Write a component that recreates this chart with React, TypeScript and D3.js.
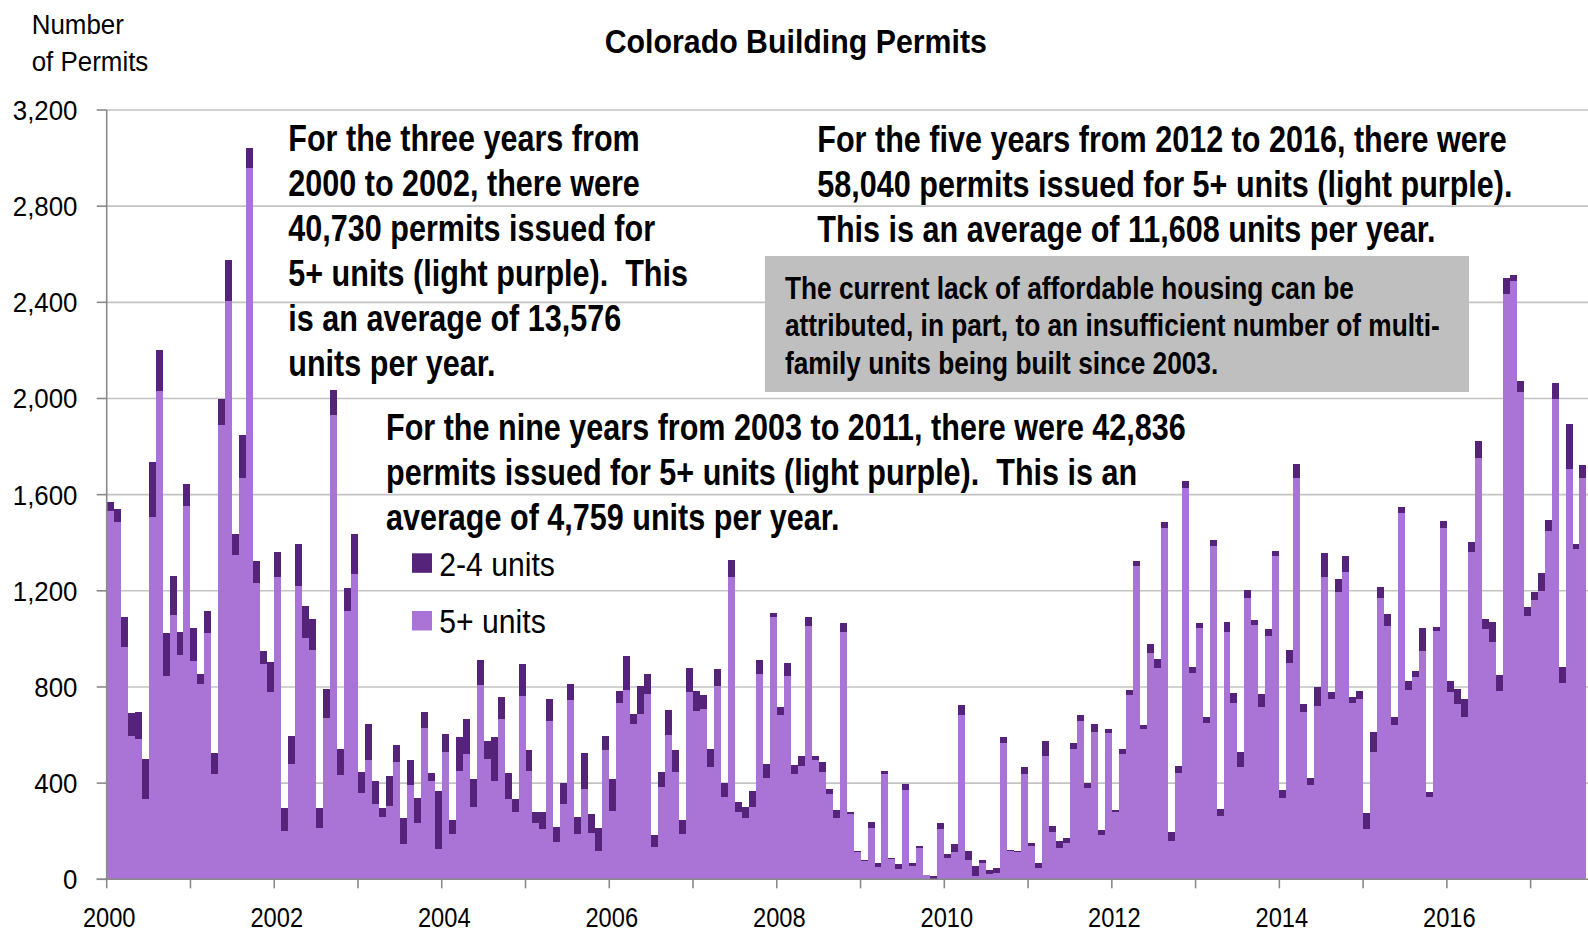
import React, { useEffect, useRef } from "react";
import * as d3 from "d3";

// Monthly permits, Jan 2000 - Aug 2017 (one row per year)
const fivePlus = [
  1534, 1485, 967, 597, 582, 336, 1507, 2033, 844, 1100, 935, 1553,
  910, 813, 1026, 438, 1888, 2406, 1348, 1670, 2960, 1232, 897, 781,
  1259, 199, 480, 1221, 1005, 952, 212, 671, 1930, 432, 1115, 1268,
  358, 497, 312, 261, 305, 487, 147, 393, 236, 629, 407, 128,
  531, 187, 452, 522, 301, 809, 502, 407, 667, 334, 278, 763,
  451, 233, 210, 660, 157, 312, 744, 189, 375, 194, 119, 536,
  284, 735, 788, 647, 688, 770, 136, 384, 599, 447, 189, 778,
  698, 710, 466, 805, 344, 1258, 278, 253, 302, 855, 420, 1093,
  684, 845, 438, 473, 1052, 497, 445, 355, 253, 1030, 272, 112,
  75, 215, 50, 438, 85, 44, 370, 57, 132, 17, 3, 208,
  87, 114, 684, 82, 15, 67, 22, 25, 566, 118, 114, 438,
  140, 47, 513, 198, 129, 153, 544, 659, 379, 612, 183, 608,
  280, 520, 765, 1303, 627, 941, 880, 1461, 161, 444, 1626, 857,
  1046, 649, 1385, 265, 1027, 735, 466, 1172, 1056, 716, 1011, 1343,
  337, 899, 1669, 695, 391, 719, 1257, 752, 1193, 1277, 733, 752,
  210, 530, 1170, 1053, 640, 1522, 789, 843, 951, 342, 1031, 1461,
  779, 731, 677, 1363, 1754, 1041, 987, 785, 2434, 2488, 2028, 1097,
  1160, 1199, 1447, 1998, 818, 1705, 1375, 1671
];

const twoToFour = [
  36, 55, 125, 95, 114, 165, 228, 168, 182, 161, 95, 91,
  135, 42, 91, 89, 110, 169, 89, 177, 83, 91, 53, 123,
  104, 97, 117, 173, 131, 131, 84, 120, 106, 112, 97, 169,
  90, 148, 95, 37, 124, 71, 107, 104, 104, 66, 34, 241,
  73, 61, 139, 143, 117, 104, 74, 184, 93, 107, 54, 132,
  87, 45, 69, 89, 62, 88, 69, 70, 151, 77, 93, 58,
  135, 50, 139, 40, 114, 82, 49, 63, 106, 89, 58, 103,
  86, 57, 75, 69, 56, 70, 45, 47, 66, 57, 60, 16,
  32, 55, 38, 40, 40, 16, 45, 20, 36, 37, 8, 6,
  5, 25, 19, 12, 4, 20, 27, 10, 8, 2, 11, 26,
  18, 34, 39, 35, 42, 13, 15, 24, 24, 4, 4, 30,
  10, 22, 64, 25, 31, 19, 25, 25, 23, 35, 22, 18,
  9, 21, 24, 22, 13, 37, 37, 25, 35, 29, 31, 27,
  22, 28, 25, 26, 44, 38, 64, 31, 23, 53, 32, 24,
  35, 56, 60, 33, 32, 79, 100, 26, 56, 66, 27, 32,
  64, 83, 44, 49, 35, 27, 35, 25, 95, 22, 20, 29,
  44, 60, 71, 42, 69, 42, 85, 65, 66, 26, 46, 37,
  37, 74, 48, 67, 66, 188, 18, 51
];

const firstYear = 2000;
const yTicks = [0, 400, 800, 1200, 1600, 2000, 2400, 2800, 3200];
const yearLabels = [2000, 2002, 2004, 2006, 2008, 2010, 2012, 2014, 2016];

const noteEarly = [
  "For the three years from",
  "2000 to 2002, there were",
  "40,730 permits issued for",
  "5+ units (light purple).  This",
  "is an average of 13,576",
  "units per year."
];
const noteLate = [
  "For the five years from 2012 to 2016, there were",
  "58,040 permits issued for 5+ units (light purple).",
  "This is an average of 11,608 units per year."
];
const noteMiddle = [
  "For the nine years from 2003 to 2011, there were 42,836",
  "permits issued for 5+ units (light purple).  This is an",
  "average of 4,759 units per year."
];
const boxNote = [
  "The current lack of affordable housing can be",
  "attributed, in part, to an insufficient number of multi-",
  "family units being built since 2003."
];

const seriesKeys = ["fivePlus", "twoToFour"];
const seriesNames = { fivePlus: "5+ units", twoToFour: "2-4 units" };
const colors = { fivePlus: "#a974d5", twoToFour: "#552379" };

const FONT = "'Liberation Sans', Arial, Helvetica, sans-serif";

const App = () => {
  const svgRef = useRef(null);

  useEffect(() => {
    const W = 1588;
    const H = 933;
    const left = 106.7;
    const step = 6.98;
    const top = 110;
    const bottom = 879.3;

    const rows = fivePlus.map((v, i) => ({ month: i, fivePlus: v, twoToFour: twoToFour[i] }));

    const x = d3.scaleBand()
      .domain(rows.map(d => d.month))
      .range([left, left + step * rows.length])
      .padding(0);

    const y = d3.scaleLinear().domain([0, 3200]).range([bottom, top]);

    const svg = d3.select(svgRef.current);
    svg.selectAll("*").remove();
    svg.attr("width", W).attr("height", H).style("font-family", FONT);

    const text = (g, str, tx, ty, size, sx, weight = "normal", anchor = "start") =>
      g.append("text")
        .attr("transform", `translate(${tx},${ty}) scale(${sx},1)`)
        .attr("font-size", size)
        .attr("font-weight", weight)
        .attr("text-anchor", anchor)
        .attr("fill", "#000")
        .style("white-space", "pre")
        .text(str);

    // gridlines
    svg.append("g")
      .selectAll("line")
      .data(yTicks.filter(t => t > 0))
      .join("line")
      .attr("x1", left)
      .attr("x2", W)
      .attr("y1", d => y(d))
      .attr("y2", d => y(d))
      .attr("stroke", "#c3c3c3")
      .attr("stroke-width", 1.6);

    // stacked bars
    const stacked = d3.stack().keys(seriesKeys)(rows);
    svg.append("g")
      .attr("shape-rendering", "crispEdges")
      .selectAll("g")
      .data(stacked)
      .join("g")
      .attr("fill", s => colors[s.key])
      .selectAll("rect")
      .data(s => s)
      .join("rect")
      .attr("x", d => x(d.data.month))
      .attr("width", x.bandwidth())
      .attr("y", d => y(d[1]))
      .attr("height", d => y(d[0]) - y(d[1]));

    // axes
    const axis = svg.append("g").attr("stroke", "#8a8a8a").attr("stroke-width", 1.6);
    axis.append("line").attr("x1", left).attr("x2", left).attr("y1", top).attr("y2", bottom);
    axis.append("line").attr("x1", left - 10).attr("x2", W).attr("y1", bottom).attr("y2", bottom);
    axis.selectAll(".yt")
      .data(yTicks)
      .join("line")
      .attr("x1", left - 10)
      .attr("x2", left)
      .attr("y1", d => y(d))
      .attr("y2", d => y(d));
    axis.selectAll(".xt")
      .data(rows.filter(d => d.month % 12 === 0))
      .join("line")
      .attr("x1", d => x(d.month))
      .attr("x2", d => x(d.month))
      .attr("y1", bottom)
      .attr("y2", bottom + 9);

    // tick labels
    const labels = svg.append("g");
    yTicks.forEach(t => text(labels, d3.format(",")(t), 77.5, y(t) + 10, 28, 0.924, "normal", "end"));
    yearLabels.forEach(yr =>
      text(labels, String(yr), x((yr - firstYear) * 12) + 2.5, 926.5, 27, 0.877, "normal", "middle")
    );

    // axis title and chart title
    text(svg, "Number", 31.7, 34.3, 27, 0.96);
    text(svg, "of Permits", 31.7, 71, 27, 0.96);
    text(svg, "Colorado Building Permits", 795.8, 53, 32.6, 0.93, "bold", "middle");

    // grey callout box
    svg.append("rect")
      .attr("x", 765).attr("y", 256)
      .attr("width", 704).attr("height", 136)
      .attr("fill", "#bfbfbf");
    boxNote.forEach((s, i) => text(svg, s, 785, 298.5 + i * 37.8, 31, 0.847, "bold"));

    // annotations
    noteEarly.forEach((s, i) => text(svg, s, 288.3, 151.3 + i * 45, 37, 0.826, "bold"));
    noteLate.forEach((s, i) => text(svg, s, 817.3, 151.5 + i * 45, 37, 0.826, "bold"));
    noteMiddle.forEach((s, i) => text(svg, s, 386, 439.5 + i * 45, 37, 0.826, "bold"));

    // legend
    const legend = svg.append("g");
    ["twoToFour", "fivePlus"].forEach((k, i) => {
      legend.append("rect")
        .attr("x", 412).attr("y", 553.3 + i * 57.7)
        .attr("width", 20).attr("height", 19.5)
        .attr("fill", colors[k]);
      text(legend, seriesNames[k], 439.3, 575.7 + i * 57.7, 33.5, 0.9);
    });

    return () => {
      svg.selectAll("*").remove();
    };
  }, []);

  return (
    <svg
      ref={svgRef}
      style={{ position: "absolute", left: 0, top: 0, background: "#ffffff", display: "block" }}
    />
  );
};

export default App;
